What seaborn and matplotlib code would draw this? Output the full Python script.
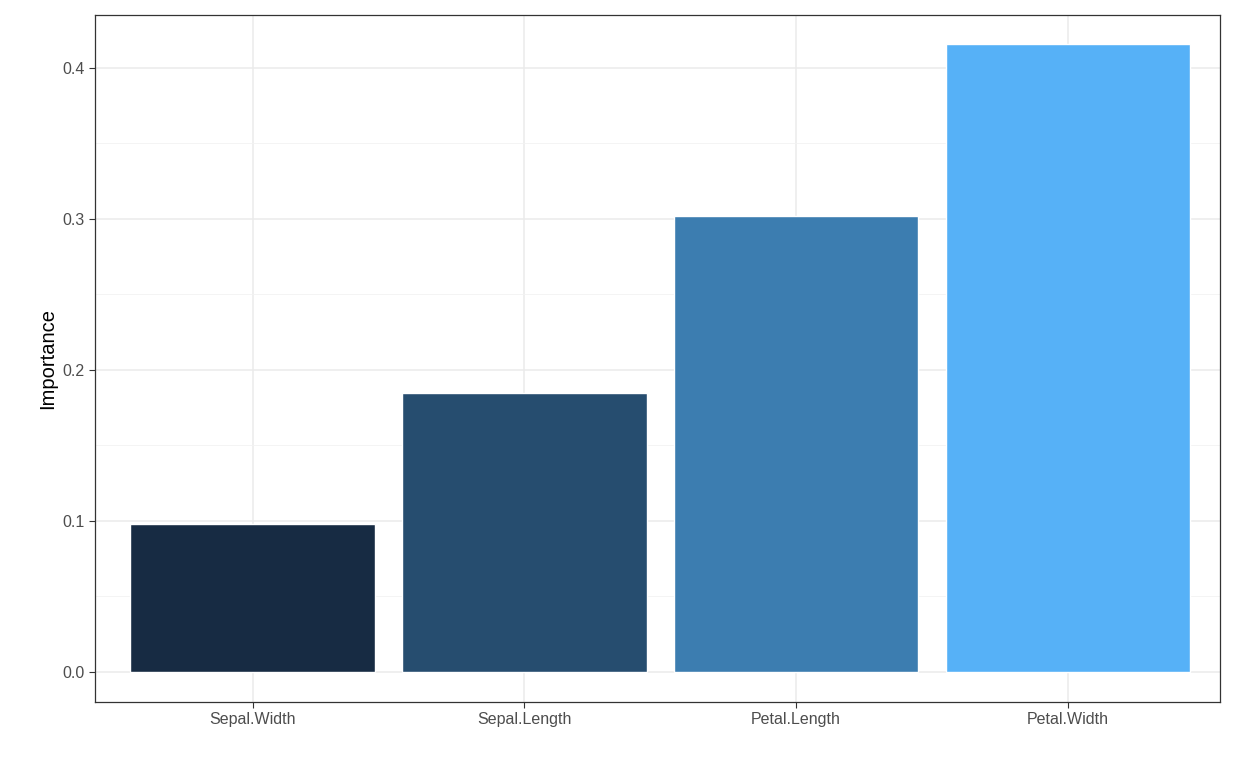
import matplotlib
matplotlib.use("Agg")
import matplotlib.pyplot as plt
import seaborn as sns
import numpy as np
import pandas as pd
from matplotlib.ticker import MultipleLocator

features = ["Sepal.Width", "Sepal.Length", "Petal.Length", "Petal.Width"]
importance = [0.098, 0.185, 0.302, 0.416]
colors = ["#172B43", "#264D6F", "#3C7DB0", "#56B1F7"]

df = pd.DataFrame({"Feature": features, "Importance": importance})

sns.set_theme(style="white")
plt.rcParams["font.family"] = ["Liberation Sans", "DejaVu Sans"]

fig = plt.figure(figsize=(12.48, 7.68), dpi=100)
ax = fig.add_axes([95 / 1248, 1 - 702 / 768, 1125 / 1248, 687 / 768])

sns.barplot(data=df, x="Feature", y="Importance", hue="Feature",
            palette=colors, width=0.9, saturation=1, legend=False, ax=ax, zorder=3)

ax.set_xlim(-0.58, 3.56)
ax.set_ylim(-0.0199, 0.435)
ax.yaxis.set_major_locator(MultipleLocator(0.1))
ax.yaxis.set_minor_locator(MultipleLocator(0.05))
ax.set_yticks(np.arange(0, 0.41, 0.1))
ax.set_yticklabels([f"{v:.1f}" for v in np.arange(0, 0.41, 0.1)])
ax.grid(True, which="major", color="#EBEBEB", linewidth=1.1, zorder=0)
ax.grid(True, which="minor", axis="y", color="#F2F2F2", linewidth=0.6, zorder=0)
ax.set_axisbelow(True)
for s in ax.spines.values():
    s.set_color("#333333")
    s.set_linewidth(0.9)
ax.tick_params(axis="both", which="major", length=4, width=0.8, color="#333333",
               labelsize=11.5, labelcolor="#4D4D4D", left=True, bottom=True)
ax.tick_params(axis="y", which="minor", length=0)
ax.set_xlabel("")
ax.set_ylabel("Importance", fontsize=14.5, color="black")

fig.savefig("out.png", dpi=100)
